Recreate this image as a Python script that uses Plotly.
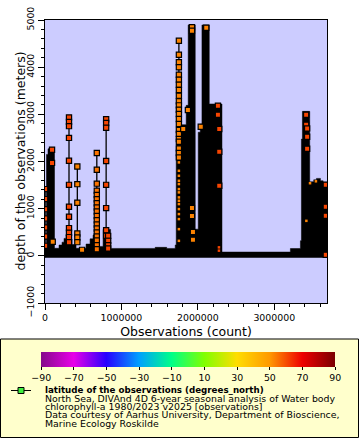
import plotly.graph_objects as go

# ---------------- data ----------------
# dense black region: step outline (observation index edges, top depth in m)
sky_edges = [0, 19700, 39300, 124500, 183500, 222800, 249000, 275200, 308000, 353900,
             406300, 537300, 589800, 629100, 655300, 707700, 760100, 858400, 1441700, 1592400,
             1703800, 1716900, 1782000, 1847500, 1873700, 1965900, 2005200, 2031400, 2053700, 2149400,
             2315800, 3211000, 3342000, 3355100, 3368200, 3463900, 3516300, 3551700, 3604100, 3639500,
             3720000]
sky_top = [160, 2150, 2270, 160, 230, 290, 370, 440, 350, 240,
           160, 250, 360, 440, 1380, 200, 560, 157, 180, 157,
           230, 2350, 2780, 3190, 4895, 565, 2620, 2790, 4895, 3220,
           80, 155, 320, 2475, 3063, 1570, 1612, 1642, 1591, 1557]
band_bottom = -42

# sparse profiles drawn with connecting lines
prof_x = [2000, 92000, 101000, 314000, 423000, 485000, 678000, 800000, 826000, 1752000]
prof_lat = [61, 61, 53, 61, 53, 53, 55, 61, 61, 53]
prof_depth = [
    [1415, 1203, 990, 794, 602, 411, 212],
    [2250, 1970],
    [300],
    [2935, 2840, 2750, 2500, 2015, 1505, 1040, 828, 588, 488, 397, 290],
    [1895, 1520, 1125, 475, 390, 290],
    [127],
    [2180, 1825, 1530, 1380, 1290, 1200, 1115, 1025, 940, 845, 755, 665, 580, 495, 410, 325, 225, 140],
    [2895, 2815, 2715, 2010, 1505, 1012, 545, 424],
    [424, 318, 227, 157],
    [4561, 4264, 4103, 3997, 3840, 3735, 3628, 3515, 3394, 3275, 3190, 3097, 3006, 2900, 2794,
     2667, 2582, 2476, 2418, 2278, 2179, 2087],
]

# markers inside the dense blocks
blk_x = [1809000, 1870000, 1923000, 1923000, 1923000, 1923000, 1936000, 1936000,
         2110000, 2038000, 2263000, 2263000, 2280000, 2280000, 2280000,
         3417000, 3417000, 3430000, 3430000, 3430000, 3674000, 3674000, 3674000, 3674000]
blk_depth = [2688, 3091, 4845, 4773, 1012, 842, 503, 340,
             4837, 2736, 3182, 2991, 2688, 2206, 1485,
             2991, 2779, 2702, 2524, 2270, 1506, 1040, 849, 21]
blk_lat = [53, 53, 53, 53, 53, 53, 53, 53,
           53, 53, 61, 61, 61, 61, 61,
           61, 61, 61, 61, 61, 61, 61, 61, 61]

# partly hidden markers (small visible fragments)
frag_x = [1752000] * 15 + [2276000, 2276000, 3468000, 3545000, 3420000]
frag_depth = [1981, 1803, 1697, 1591, 1521, 1415, 1345, 1239, 1167, 1097, 991, 885, 779, 566, 318,
              180, 110, 1540, 1580, 742]
frag_lat = [53] * 15 + [61, 61, 53, 53, 53]

cbar_ticks = [-90, -70, -50, -30, -10, 10, 30, 50, 70, 90]
lat_stops = [-90, -70, -50, -30, -10, 10, 30, 50, 70, 90]
lat_colors = ['#840a8a', '#e800e8', '#2800ff', '#00a0ff', '#00ff88',
              '#80ff00', '#ffdd00', '#ff9900', '#ee0000', '#7a0000']

x_title = "Observations (count)"
y_title = "depth of the observations (meters)"
legend_title = "latitude of the observations (degrees_north)"
legend_lines = ["North Sea, DIVAnd 4D 6-year seasonal analysis of Water body",
                "chlorophyll-a 1980/2023 v2025 [observations]",
                "Data courtesy of Aarhus University, Department of Bioscience,",
                "Marine Ecology Roskilde"]

# ---------------- figure ----------------
W, H = 360, 440
L, R, T, B = 45, 33, 20, 137
PW, PH = W - L - R, H - T - B


def px2x(p):
    return (p - L) / PW


def py2y(p):
    return (H - B - p) / PH


cscale = [[(v + 90) / 180, c] for v, c in zip(lat_stops, lat_colors)]
FONT = "DejaVu Sans"

fig = go.Figure()

# black dense region
sx, sy = [sky_edges[0]], [band_bottom]
for i, t in enumerate(sky_top):
    sx += [sky_edges[i], sky_edges[i + 1]]
    sy += [t, t]
sx.append(sky_edges[-1])
sy.append(band_bottom)
fig.add_trace(go.Scatter(x=sx, y=sy, mode="lines", fill="toself", fillcolor="black",
                         line=dict(color="black", width=0.5), hoverinfo="skip"))

mk_common = dict(symbol="square", colorscale=cscale, cmin=-90, cmax=90,
                 line=dict(color="black", width=1.2))

for i, (x0, lat, depths) in enumerate(zip(prof_x, prof_lat, prof_depth)):
    mk = dict(size=5.2, color=[lat] * len(depths), **mk_common)
    if i == 0:
        mk["showscale"] = True
        mk["colorbar"] = dict(
            orientation="h", x=px2x(188.2), xanchor="center",
            y=py2y(352), yanchor="top",
            len=293.7, lenmode="pixels", thickness=14.7, thicknessmode="pixels",
            outlinewidth=0, tickvals=cbar_ticks, ticks="outside", ticklen=3,
            tickcolor="black", tickfont=dict(family=FONT, size=9.4, color="black"),
            xpad=0, ypad=0)
    fig.add_trace(go.Scatter(x=[x0] * len(depths), y=depths, mode="lines+markers",
                             line=dict(color="black", width=1.3), marker=mk))

fig.add_trace(go.Scatter(x=blk_x, y=blk_depth, mode="markers",
                         marker=dict(size=5.2, color=blk_lat, **mk_common)))
fig.add_trace(go.Scatter(x=frag_x, y=frag_depth, mode="markers",
                         marker=dict(symbol="square", size=2.5, color=frag_lat, colorscale=cscale,
                                     cmin=-90, cmax=90, line=dict(width=0))))

axis_common = dict(showline=True, mirror=True, linecolor="black", linewidth=1,
                   ticks="outside", ticklen=6, tickwidth=1, tickcolor="black",
                   showgrid=False, zeroline=False,
                   tickfont=dict(family=FONT, size=9.4, color="black"))

fig.update_layout(
    width=W, height=H, margin=dict(l=L, r=R, t=T, b=B, autoexpand=False),
    paper_bgcolor="white", plot_bgcolor="#ccccff", showlegend=False,
    font=dict(family=FONT, color="black"),
    xaxis=dict(range=[0, 3690000], dtick=1000000, tick0=0, tickformat="d",
               minor=dict(ticks="outside", ticklen=3, dtick=200000, tickcolor="black", showgrid=False),
               title=dict(text=x_title, font=dict(family=FONT, size=12.5), standoff=4),
               **axis_common),
    yaxis=dict(range=[-1000, 5000], dtick=1000, tick0=0, tickangle=-90,
               minor=dict(ticks="outside", ticklen=3, dtick=200, tickcolor="black", showgrid=False),
               **axis_common),
)

shapes = [
    dict(type="rect", xref="paper", yref="paper", x0=px2x(0.5), x1=px2x(358.5),
         y0=py2y(339), y1=py2y(437.5), fillcolor="#ffffcc", line=dict(color="black", width=1),
         layer="below"),
    dict(type="line", xref="paper", yref="paper", x0=px2x(11), x1=px2x(31),
         y0=py2y(390.5), y1=py2y(390.5), line=dict(color="black", width=1)),
    dict(type="rect", xref="paper", yref="paper", x0=px2x(18), x1=px2x(24),
         y0=py2y(387.5), y1=py2y(393.5), fillcolor="#3fef3f", line=dict(color="black", width=1)),
]
fig.update_layout(shapes=shapes)

# y axis title
fig.add_annotation(x=px2x(20), y=py2y(161.5), xref="paper", yref="paper", textangle=-90,
                   xanchor="center", yanchor="middle", showarrow=False, text=y_title,
                   font=dict(family=FONT, size=12.5, color="black"))

# legend text
fig.add_annotation(x=px2x(42.7), y=py2y(389.8), xref="paper", yref="paper",
                   xanchor="left", yanchor="middle", showarrow=False,
                   text="<b>" + legend_title + "</b>",
                   font=dict(family=FONT, size=8.7, color="black"))
for t, yy in zip(legend_lines, [398.2, 406.5, 414.8, 423.2]):
    fig.add_annotation(x=px2x(42.7), y=py2y(yy), xref="paper", yref="paper",
                       xanchor="left", yanchor="middle", showarrow=False, text=t,
                       font=dict(family=FONT, size=9.4, color="black"))

fig.write_html("out.html", config={"displayModeBar": False},
               post_script="document.body.style.margin='0px';document.body.style.overflow='hidden';")
